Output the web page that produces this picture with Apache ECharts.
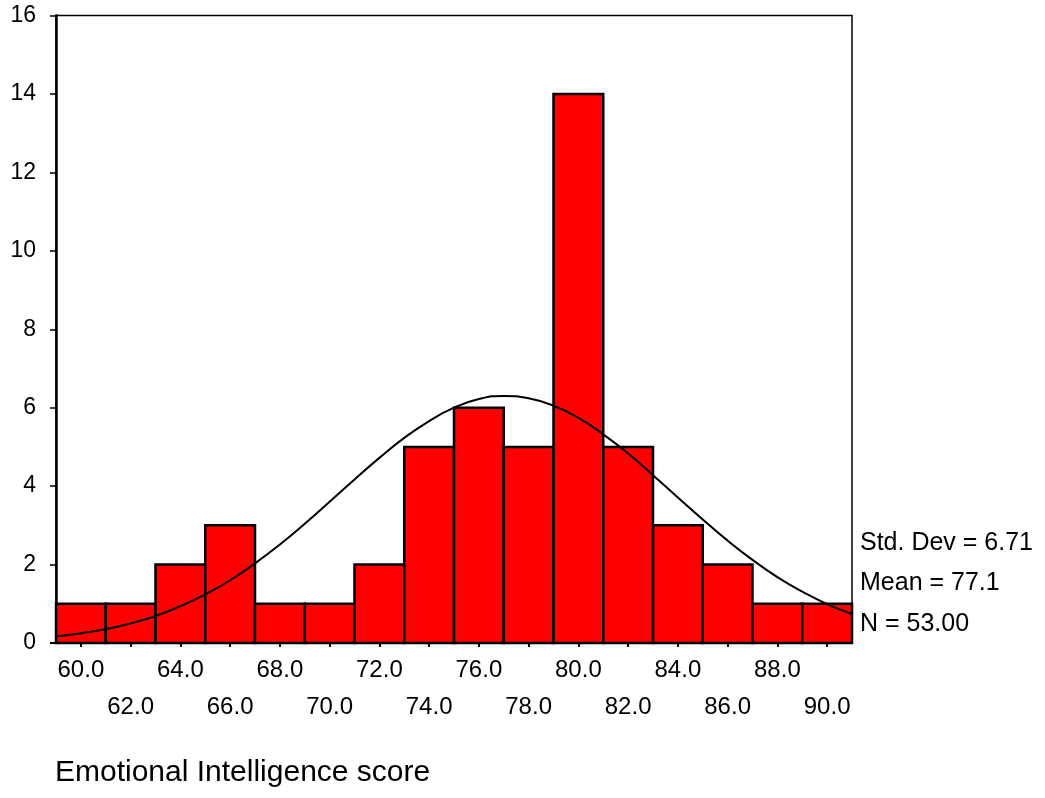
<!DOCTYPE html>
<html><head><meta charset="utf-8">
<script src="https://cdn.jsdelivr.net/npm/echarts@6/dist/echarts.min.js"></script>
<style>html,body{margin:0;padding:0;background:#fff}#c{width:1045px;height:798px}</style>
</head><body><div id="c"></div>
<script>
const binCenters = [60,62,64,66,68,70,72,74,76,78,80,82,84,86,88,90];
const counts = [1,1,2,3,1,1,2,5,6,5,14,5,3,2,1,1];
const curveX = [59,60,61,62,63,64,65,66,67,68,69,70,71,72,73,74,75,76,77,78,79,80,81,82,83,84,85,86,87,88,89,90,91];
const curveY = [0.17,0.25,0.35,0.50,0.69,0.94,1.24,1.60,2.03,2.51,3.04,3.60,4.17,4.72,5.23,5.66,6.00,6.22,6.30,6.24,6.05,5.74,5.32,4.83,4.28,3.71,3.15,2.61,2.12,1.68,1.31,0.99,0.74];
const statLines = ['Std. Dev = 6.71','Mean = 77.1','N = 53.00'];
const xTitle = 'Emotional Intelligence score';
const binWidth = 2;

const chart = echarts.init(document.getElementById('c'));
const font = 'Liberation Sans, Arial, sans-serif';
chart.setOption({
  animation:false,
  grid:{left:56,right:193,top:15.5,bottom:155,show:true,borderColor:'#000',borderWidth:1.5,containLabel:false},
  xAxis:{type:'value',min:59,max:91,
    axisLine:{show:true,onZero:false,lineStyle:{color:'#000',width:2}},
    axisTick:{show:true,customValues:binCenters,length:4,lineStyle:{color:'#000',width:2}},
    splitLine:{show:false},
    axisLabel:{customValues:binCenters,color:'#000',fontFamily:font,fontSize:24,margin:9,lineHeight:37,
      formatter:function(v){const i=binCenters.indexOf(v);const s=v.toFixed(1);return i%2===1?'\n'+s:s;}}
  },
  yAxis:{type:'value',min:0,max:16,interval:2,
    axisLine:{show:true,lineStyle:{color:'#000',width:2.5}},
    axisTick:{show:true,length:6,lineStyle:{color:'#000',width:1.5}},
    splitLine:{show:false},
    axisLabel:{color:'#000',fontFamily:font,fontSize:23,margin:20}
  },
  graphic:[
    {type:'line',shape:{x1:50,y1:643,x2:57,y2:643},style:{stroke:'#000',lineWidth:2}},
    {type:'text',x:860,y:543,style:{text:statLines[0],font:'25px '+font,fill:'#000',verticalAlign:'middle'}},
    {type:'text',x:860,y:583,style:{text:statLines[1],font:'25px '+font,fill:'#000',verticalAlign:'middle'}},
    {type:'text',x:860,y:624,style:{text:statLines[2],font:'25px '+font,fill:'#000',verticalAlign:'middle'}},
    {type:'text',x:55,y:773,style:{text:xTitle,font:'30px '+font,fill:'#000',verticalAlign:'middle'}}
  ],
  series:[
    {type:'custom',data:binCenters.map((c,i)=>[c,counts[i]]),
      renderItem:function(params,api){
        const c=api.value(0), v=api.value(1);
        const p1=api.coord([c-binWidth/2,v]);
        const p2=api.coord([c+binWidth/2,0]);
        return {type:'rect',shape:{x:p1[0],y:p1[1],width:p2[0]-p1[0],height:p2[1]-p1[1]},
          style:{fill:'#ff0000',stroke:'#000',lineWidth:2.5}};
      },z:2},
    {type:'line',data:curveX.map((x,i)=>[x,curveY[i]]),smooth:true,showSymbol:false,
      lineStyle:{color:'#000',width:2},z:3}
  ]
});
</script></body></html>
